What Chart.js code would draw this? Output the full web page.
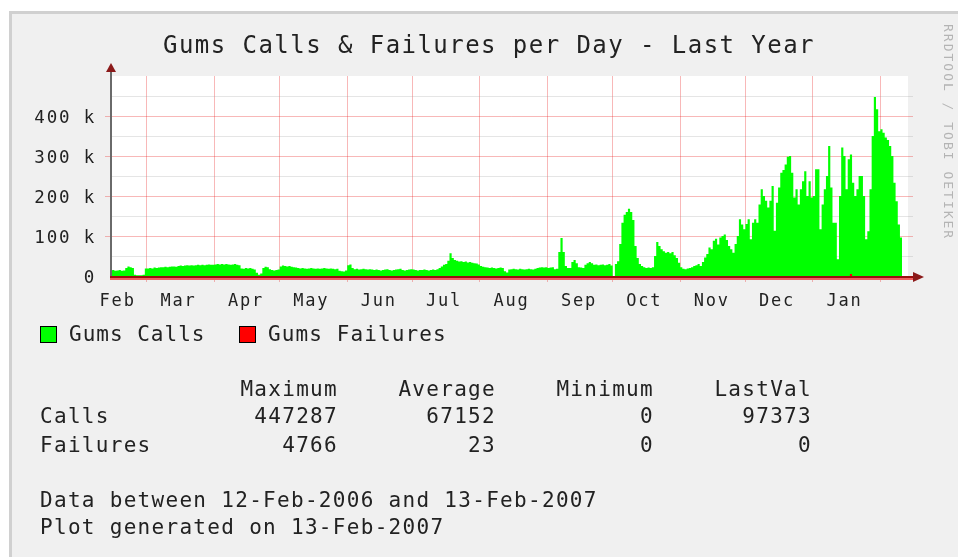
<!DOCTYPE html>
<html>
<head>
<meta charset="utf-8">
<script src="https://cdn.jsdelivr.net/npm/chart.js@4.4.1/dist/chart.umd.min.js"></script>
<style>
html,body{margin:0;padding:0;background:#fff;width:958px;height:557px;overflow:hidden;position:relative;}
#frame{position:absolute;left:9px;top:11px;width:949px;height:546px;background:#f0f0f0;border-top:3px solid #d0d0d0;border-left:3px solid #d0d0d0;box-sizing:border-box;}
#c{position:absolute;left:0;top:0;}
.t{position:absolute;font-family:"DejaVu Sans Mono",monospace;color:#222;white-space:pre;line-height:normal;}
.s{font-size:21px;letter-spacing:1.3px;}
.r{text-align:right;}
.box{position:absolute;width:17px;height:17px;border:1px solid #000;box-sizing:border-box;}
#title{left:0;width:978px;text-align:center;top:31px;font-size:24px;letter-spacing:1.45px;}
#wm{position:absolute;left:941px;top:24px;writing-mode:vertical-rl;font-family:"DejaVu Sans Mono",monospace;font-size:13px;letter-spacing:2px;color:#b4b4b4;white-space:pre;}
</style>
</head>
<body>
<div id="frame"></div>
<canvas id="c" width="958" height="557"></canvas>
<div class="t" id="title">Gums Calls &amp; Failures per Day - Last Year</div>
<div id="wm">RRDTOOL / TOBI OETIKER</div>
<div class="box" style="left:40px;top:326px;background:#00ff00"></div>
<div class="t s" style="left:69px;top:322px;letter-spacing:1px">Gums Calls</div>
<div class="box" style="left:239px;top:326px;background:#ff0000"></div>
<div class="t s" style="left:268px;top:322px;letter-spacing:1.1px">Gums Failures</div>

<div class="t s r" style="right:620px;top:377px">Maximum</div>
<div class="t s r" style="right:462px;top:377px">Average</div>
<div class="t s r" style="right:304px;top:377px">Minimum</div>
<div class="t s r" style="right:146px;top:377px">LastVal</div>

<div class="t s" style="left:40px;top:404px">Calls</div>
<div class="t s r" style="right:620px;top:404px">447287</div>
<div class="t s r" style="right:462px;top:404px">67152</div>
<div class="t s r" style="right:304px;top:404px">0</div>
<div class="t s r" style="right:146px;top:404px">97373</div>

<div class="t s" style="left:40px;top:433px">Failures</div>
<div class="t s r" style="right:620px;top:433px">4766</div>
<div class="t s r" style="right:462px;top:433px">23</div>
<div class="t s r" style="right:304px;top:433px">0</div>
<div class="t s r" style="right:146px;top:433px">0</div>

<div class="t s" style="left:40px;top:488px">Data between 12-Feb-2006 and 13-Feb-2007</div>
<div class="t s" style="left:40px;top:515px">Plot generated on 13-Feb-2007</div>

<script>
// Daily Gums calls (thousands), day 0 = 12-Feb-2006
const callsFeb06 = [14,15,13,14,15,13,14,20,24,22,20,3,2,2,2,3,19];
const callsMar = [19,20,19,21,20,21,22,22,23,22,23,24,24,23,25,26,25,26,27,26,27,26,27,28,27,28,27,28,29,28,28];
const callsApr = [29,30,29,30,29,30,29,28,29,30,28,27,19,18,20,19,20,18,16,8,3,6,20,23,22,17,15,14,15,16];
const callsMay = [24,26,25,24,25,23,22,21,20,19,20,19,18,19,20,19,18,19,18,19,20,19,18,19,18,17,18,13,12,11,14];
const callsJun = [27,29,20,17,18,16,17,18,17,16,17,16,15,16,15,14,15,16,17,15,14,15,16,17,18,15,14,15,16,17];
const callsJul = [16,15,14,15,15,16,15,14,15,16,15,17,20,24,28,30,38,57,45,40,38,36,37,35,36,34,35,33,32,31,29];
const callsAug = [25,23,22,21,20,21,20,19,20,21,20,12,9,16,17,18,17,16,18,17,16,17,18,17,16,18,20,21,22,21,22];
const callsSep = [20,21,22,17,18,60,95,60,25,20,20,35,40,32,22,21,20,28,32,35,32,28,29,27,28,29,27,28,30,26];
const callsOct = [0,30,37,80,133,153,160,168,160,140,75,45,30,25,22,20,21,20,22,50,85,75,67,62,58,60,57,60,52,45,33];
const callsNov = [22,18,17,19,20,22,25,27,30,25,35,46,55,71,67,88,93,79,96,100,104,90,75,67,58,80,100,142,129,117];
const callsDec = [130,142,92,133,142,133,179,217,200,188,171,188,225,113,183,221,258,265,279,298,300,258,196,217,179,217,237,262,200,237,196];
const callsJan = [200,267,267,117,179,217,250,325,221,133,133,42,200,321,300,217,292,304,233,200,217,250,250,200,92,112,217,350,447.287,417,362];
const callsFeb07 = [367,358,346,340,325,300,233,187,129,96,97.373];

// Gums failures (thousands): only non-zero days listed
const failureDays = [340];
const failureValues = [4.766];

// Axis ticks (day index)
const monthStartDays = [17,48,78,109,139,170,201,231,262,292,323,354];
const monthLabelDays = [3.5,31.5,62.5,92.5,123.5,153.5,184.5,215.5,245.5,276.5,306.5,337.5];
const monthLabels = ['Feb','Mar','Apr','May','Jun','Jul','Aug','Sep','Oct','Nov','Dec','Jan'];
const yMajorTicks = [0,100,200,300,400];

const calls = [].concat(callsFeb06,callsMar,callsApr,callsMay,callsJun,callsJul,callsAug,callsSep,callsOct,callsNov,callsDec,callsJan,callsFeb07);
const callPoints = calls.map((v,i)=>({x:i,y:v}));
const failPoints = calls.map((_,i)=>{const k=failureDays.indexOf(i);return {x:i,y:k>=0?failureValues[k]:0};});

const RED_GRID='rgba(235,40,40,0.33)';
const GRAY_GRID='rgba(150,150,150,0.25)';
const FONT={family:'"DejaVu Sans Mono", monospace',size:17};

const rrdPlugin={
  id:'rrd',
  beforeDraw(chart){
    const a=chart.chartArea,c=chart.ctx;
    c.save();
    c.fillStyle='#ffffff';
    c.fillRect(a.left,a.top,908-a.left,a.bottom-a.top);
    c.restore();
    c.letterSpacing='1.8px';
  },
  afterDatasetsDraw(chart){
    const a=chart.chartArea,c=chart.ctx;
    const y0=chart.scales.y.getPixelForValue(0);
    c.save();
    c.fillStyle='#6a6a6a';
    c.fillRect(a.left,70,2,y0-70);
    c.fillStyle='#8b1a1a';
    c.beginPath();c.moveTo(a.left+1,63);c.lineTo(a.left-4,72);c.lineTo(a.left+6,72);c.closePath();c.fill();
    c.fillStyle='#f06060';
    c.fillRect(a.left,y0+2,a.right-a.left,2);
    c.fillStyle='#9a1010';
    c.fillRect(a.left,y0,a.right-a.left,2);
    c.fillStyle='#8b1a1a';
    c.beginPath();c.moveTo(a.right,y0-4);c.lineTo(a.right+11,y0+1);c.lineTo(a.right,y0+6);c.closePath();c.fill();
    c.restore();
  }
};

new Chart(document.getElementById('c'),{
  type:'line',
  data:{datasets:[
    {label:'Gums Failures',data:failPoints,xAxisID:'x',yAxisID:'y',stepped:true,pointRadius:0,borderWidth:0,borderColor:'#ff0000',backgroundColor:'#ff0000',fill:'origin'},
    {label:'Gums Calls',data:callPoints,xAxisID:'x',yAxisID:'y',stepped:true,pointRadius:0,borderWidth:0,borderColor:'#00ff00',backgroundColor:'#00ff00',fill:'origin'}
  ]},
  options:{
    responsive:false,animation:false,devicePixelRatio:1,
    layout:{padding:{top:76,right:45,bottom:245,left:0}},
    plugins:{legend:{display:false},tooltip:{enabled:false},title:{display:false}},
    scales:{
      x:{type:'linear',position:'bottom',min:0,max:369,
        afterBuildTicks:s=>{s.ticks=monthStartDays.map(v=>({value:v}));},
        afterFit:s=>{s.height=6;},
        grid:{color:RED_GRID,tickColor:RED_GRID,tickLength:6,lineWidth:1},
        ticks:{display:false},border:{display:false}},
      x2:{type:'linear',position:'bottom',min:0,max:369,
        afterBuildTicks:s=>{s.ticks=monthLabelDays.map(v=>({value:v}));},
        afterFit:s=>{s.height=30;},
        grid:{display:false,drawTicks:false},border:{display:false},
        ticks:{autoSkip:false,maxRotation:0,padding:9,font:FONT,color:'#222',callback:(v,i)=>monthLabels[i]}},
      y:{min:0,max:500,
        afterFit:s=>{s.width=110;},
        ticks:{stepSize:50,autoSkip:false,padding:9,labelOffset:2,font:{family:'"DejaVu Sans Mono", monospace',size:17.5},color:'#222',
          callback:v=>yMajorTicks.includes(v)?(v===0?'0':v+' k'):''},
        grid:{lineWidth:1,tickLength:5,
          color:ctx=>{const v=ctx.tick.value;if(v===0||v===500)return 'rgba(0,0,0,0)';return v%100===0?RED_GRID:GRAY_GRID;},
          tickColor:ctx=>{const v=ctx.tick.value;return (yMajorTicks.includes(v)&&v!==0)?RED_GRID:'rgba(0,0,0,0)';}},
        border:{display:false}}
    }
  },
  plugins:[rrdPlugin]
});
</script>
</body>
</html>
